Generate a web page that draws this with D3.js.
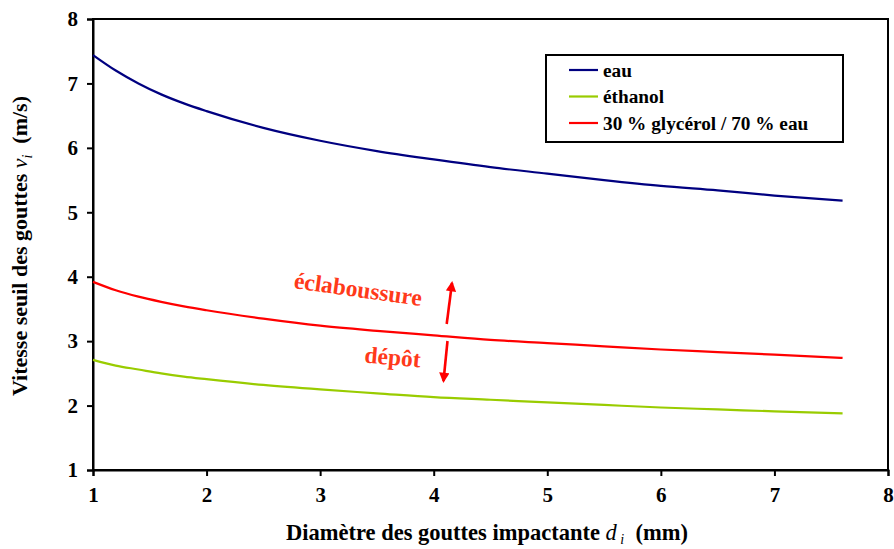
<!DOCTYPE html>
<html>
<head>
<meta charset="utf-8">
<script src="https://cdn.jsdelivr.net/npm/d3@7"></script>
<style>
  body { margin: 0; background: #fff; }
  svg { display: block; font-family: "Liberation Serif", "DejaVu Serif", "Times New Roman", serif; font-weight: bold; }
</style>
</head>
<body>
<svg id="chart" width="894" height="549"></svg>
<script>
// Diamètre des gouttes (mm)
const diameters = [1, 1.2, 1.4, 1.6, 1.8, 2, 2.5, 3, 3.5, 4, 4.5, 5, 5.5, 6, 6.5, 7, 7.6];
// Vitesse seuil (m/s)
const eau      = [7.44, 7.20, 7.00, 6.83, 6.69, 6.57, 6.31, 6.11, 5.95, 5.82, 5.70, 5.60, 5.50, 5.41, 5.34, 5.26, 5.18];
const ethanol  = [2.71, 2.62, 2.56, 2.50, 2.45, 2.41, 2.32, 2.25, 2.19, 2.13, 2.09, 2.05, 2.01, 1.97, 1.94, 1.91, 1.88];
const glycerol = [3.92, 3.79, 3.69, 3.61, 3.54, 3.48, 3.35, 3.24, 3.16, 3.09, 3.02, 2.97, 2.92, 2.87, 2.83, 2.79, 2.74];
const seriesNames  = ["eau", "éthanol", "30 % glycérol / 70 % eau"];
const seriesColors = ["#000080", "#99CC00", "#FF0000"];
const xTicks = [1, 2, 3, 4, 5, 6, 7, 8];
const yTicks = [1, 2, 3, 4, 5, 6, 7, 8];

const svg = d3.select("#chart");
const m = { left: 93, top: 19, right: 888, bottom: 470 };

const x = d3.scaleLinear().domain([1, 8]).range([m.left, m.right]);
const y = d3.scaleLinear().domain([1, 8]).range([m.bottom, m.top]);

// frame
svg.append("rect")
  .attr("x", m.left).attr("y", m.top)
  .attr("width", m.right - m.left).attr("height", m.bottom - m.top)
  .attr("fill", "none").attr("stroke", "#000").attr("stroke-width", 2);

// axes
const xAxis = svg.append("g").attr("transform", `translate(0,${m.bottom})`)
  .call(d3.axisBottom(x).tickValues(xTicks).tickFormat(d3.format("d")).tickSize(6).tickPadding(11));
const yAxis = svg.append("g").attr("transform", `translate(${m.left},0)`)
  .call(d3.axisLeft(y).tickValues(yTicks).tickFormat(d3.format("d")).tickSize(6).tickPadding(9));
[xAxis, yAxis].forEach(g => {
  g.select(".domain").attr("stroke", "#000").attr("stroke-width", 2);
  g.selectAll(".tick line").attr("stroke", "#000").attr("stroke-width", 2);
  g.selectAll(".tick text").attr("fill", "#000")
    .style("font-family", '"Liberation Serif", "DejaVu Serif", serif').style("font-weight", "bold").style("font-size", "21px");
});

// series
const data = [eau, ethanol, glycerol];
const line = d3.line().x((d, i) => x(diameters[i])).y(d => y(d)).curve(d3.curveMonotoneX);
data.forEach((vals, k) => {
  svg.append("path").datum(vals)
    .attr("d", line)
    .attr("fill", "none")
    .attr("stroke", seriesColors[k])
    .attr("stroke-width", 2.2);
});

// legend
const lg = svg.append("g");
lg.append("rect").attr("x", 546).attr("y", 55).attr("width", 297).attr("height", 87)
  .attr("fill", "#fff").attr("stroke", "#000").attr("stroke-width", 2);
seriesNames.forEach((name, k) => {
  const yy = 70 + k * 26.5;
  lg.append("line").attr("x1", 569).attr("x2", 598).attr("y1", yy).attr("y2", yy)
    .attr("stroke", seriesColors[k]).attr("stroke-width", 2.2);
  lg.append("text").attr("x", 603).attr("y", yy + 6.5).attr("font-size", 19.3).text(name);
});

// axis titles
const xt = svg.append("text").attr("x", 487).attr("y", 540).attr("text-anchor", "middle").attr("font-size", 22.5);
xt.append("tspan").text("Diamètre des gouttes impactante ");
xt.append("tspan").attr("font-style", "italic").attr("font-weight", "normal").text("d");
xt.append("tspan").attr("font-style", "italic").attr("font-weight", "normal").attr("font-size", 14).attr("dy", 4).text("\u00a0i");
xt.append("tspan").attr("dy", -4).text("\u00a0\u00a0(mm)");

const yt = svg.append("text").attr("transform", "translate(27,246) rotate(-90)")
  .attr("text-anchor", "middle").attr("font-size", 22);
yt.append("tspan").text("Vitesse seuil des gouttes ");
yt.append("tspan").attr("font-style", "italic").attr("font-weight", "normal").text("v");
yt.append("tspan").attr("font-style", "italic").attr("font-weight", "normal").attr("font-size", 14).attr("dy", 5).text("i");
yt.append("tspan").attr("dy", -5).text("\u00a0\u00a0(m/s)");

// regime annotations
const annoColor = "#FF3A1A";
svg.append("text").attr("transform", "translate(357,297) rotate(8)")
  .attr("text-anchor", "middle").attr("font-size", 23.5).attr("fill", annoColor).text("éclaboussure");
svg.append("text").attr("transform", "translate(392,365) rotate(5)")
  .attr("text-anchor", "middle").attr("font-size", 23.5).attr("fill", annoColor).text("dépôt");

const defs = svg.append("defs");
defs.append("marker").attr("id", "head").attr("viewBox", "0 0 10 10")
  .attr("refX", 8).attr("refY", 5).attr("markerWidth", 4.5).attr("markerHeight", 4)
  .attr("orient", "auto")
  .append("path").attr("d", "M0,0 L10,5 L0,10 z").attr("fill", "#FF0000");
svg.append("line").attr("x1", 446.7).attr("y1", 324).attr("x2", 452).attr("y2", 283)
  .attr("stroke", "#FF0000").attr("stroke-width", 2.6).attr("marker-end", "url(#head)");
svg.append("line").attr("x1", 447.5).attr("y1", 341).attr("x2", 443.5).attr("y2", 381)
  .attr("stroke", "#FF0000").attr("stroke-width", 2.6).attr("marker-end", "url(#head)");
</script>
</body>
</html>
